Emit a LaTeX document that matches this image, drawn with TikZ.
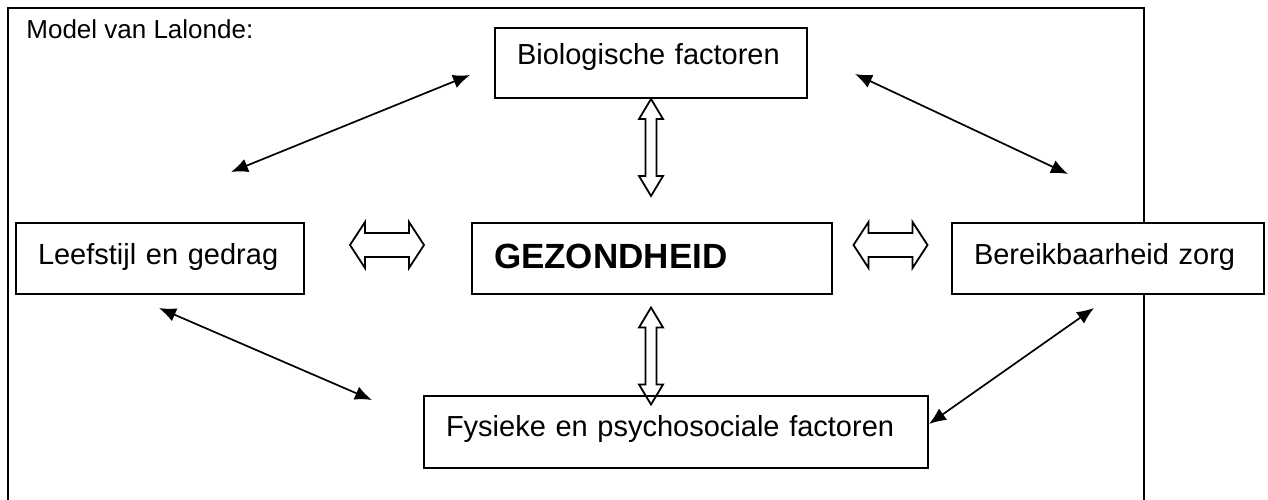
\documentclass[tikz,border=0pt]{standalone}
\usepackage{fontspec}
\setmainfont{Liberation Sans}
\usetikzlibrary{arrows.meta,positioning}

\begin{document}
\begin{tikzpicture}[x=0.5pt, y=-0.5pt,
	factor/.style={draw, fill=white, line width=1pt, anchor=north west, inner xsep=11pt, inner ysep=0pt, align=left, font=\fontsize{14.5}{17}\selectfont, text height=20.5pt, text depth=15pt},
	link/.style={{Latex[length=8.5pt,width=7pt]}-{Latex[length=8.5pt,width=7pt]}, line width=0.85pt},
	hollow/.style={draw, line width=0.9pt, line join=miter}]
	\useasboundingbox (0,0) rectangle (1268,499);
	
	%frame
	\draw[line width=1pt] (8,510) -- (8,8) -- (1144,8) -- (1144,510);
	\node[anchor=base west, inner sep=0pt, font=\fontsize{13}{15}\selectfont] (title) at (26,38) {Model van Lalonde:};
	
	%boxes
	\node[factor, text width=134pt, text height=18pt, text depth=17pt] (bio) at (494,27) {Biologische factoren};
	\node[factor, text width=122pt] (leef) at (15,222) {Leefstijl en gedrag};
	\node[factor, text width=158pt, text height=22.5pt, text depth=13pt, font=\fontsize{17.5}{20}\selectfont\bfseries] (gez) at (471,222) {GEZONDHEID};
	\node[factor, text width=134pt] (ber) at (951,222) {Bereikbaarheid zorg};
	\node[factor, text width=230pt, text height=20pt, text depth=16pt] (fys) at (423,395) {Fysieke en psychosociale factoren};
	
	%hollow arrows
	\coordinate (leefgez) at (387,245);
	\coordinate (gezber) at (890.5,245);
	\coordinate (biogez) at (651,147.5);
	\coordinate (gezfys) at (651,356);
	\foreach \c in {leefgez, gezber}{
		\draw[hollow] (\c) ++(-37,0) -- ++(15,-23) -- ++(0,11) -- ++(44,0) -- ++(0,-11) -- ++(15,23) -- ++(-15,23) -- ++(0,-11) -- ++(-44,0) -- ++(0,11) -- cycle;
	}
	\foreach \c in {biogez, gezfys}{
		\draw[hollow] (\c) ++(0,-48.5) -- ++(12,20) -- ++(-6.5,0) -- ++(0,57) -- ++(6.5,0) -- ++(-12,20) -- ++(-12,-20) -- ++(6.5,0) -- ++(0,-57) -- ++(-6.5,0) -- cycle;
	}
	
	%thin arrows
	\coordinate (bioL) at (470,75);
	\coordinate (leefT) at (231,172);
	\coordinate (bioR) at (855,74);
	\coordinate (berT) at (1068,174);
	\coordinate (leefB) at (159,308);
	\coordinate (fysL) at (372,400);
	\coordinate (berB) at (1094,308);
	\coordinate (fysR) at (929,424);
	\draw[link] (leefT) -- (bioL);
	\draw[link] (bioR) -- (berT);
	\draw[link] (leefB) -- (fysL);
	\draw[link] (berB) -- (fysR);
\end{tikzpicture}
\end{document}
